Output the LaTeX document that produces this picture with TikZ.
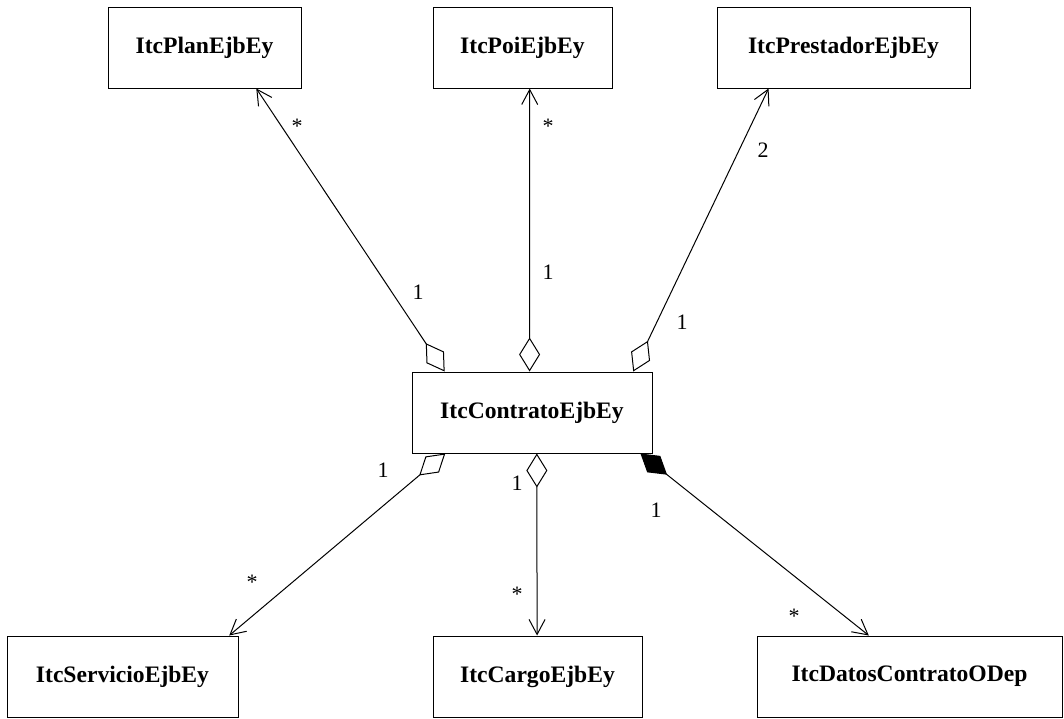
\documentclass[tikz,border=0pt]{standalone}
\usepackage{fontspec}
\setmainfont{Liberation Serif}
\usetikzlibrary{arrows.meta,calc}

\begin{document}
\begin{tikzpicture}[x=0.5pt,y=-0.5pt,
      cls/.style={draw, line width=0.5pt, inner sep=0pt, minimum height=40.5pt,
        font=\fontsize{11.8}{14}\selectfont\bfseries},
      mult/.style={inner sep=0pt, font=\fontsize{11}{13}\selectfont},
      agg/.style={line width=0.5pt,
        {Diamond[open,length=17pt,width=10.5pt]}-{Straight Barb[length=7.5pt,width=8pt]}},
      comp/.style={line width=0.5pt,
        {Diamond[length=17pt,width=10.5pt]}-{Straight Barb[length=7.5pt,width=8pt]}}
    ]
    \useasboundingbox[fill=white] (0,0) rectangle (1064,718);

    % Classes
    \node[cls, minimum width=96.5pt] (plan) at (204.5,47.5) {ItcPlanEjbEy};
    \node[cls, minimum width=89.5pt] (poi) at (522.5,47.5) {ItcPoiEjbEy};
    \node[cls, minimum width=126.5pt] (prest) at (843.5,47.5) {ItcPrestadorEjbEy};
    \node[cls, minimum width=120pt] (ctr) at (532,412.5) {ItcContratoEjbEy};
    \node[cls, minimum width=115.5pt] (serv) at (122.5,676.5) {ItcServicioEjbEy};
    \node[cls, minimum width=104.5pt] (cargo) at (537.5,676.5) {ItcCargoEjbEy};
    \node[cls, minimum width=152.5pt] (datos) at (909.5,676.5) {ItcDatosContratoODep};

    % Associations
    \draw[agg] ($(ctr.north west)!0.1375!(ctr.north east)$) -- ($(plan.south west)!0.767!(plan.south east)$);
    \draw[agg] ($(ctr.north west)!0.49!(ctr.north east)$) -- ($(poi.south west)!0.54!(poi.south east)$);
    \draw[agg] ($(ctr.north west)!0.92!(ctr.north east)$) -- ($(prest.south west)!0.205!(prest.south east)$);
    \draw[agg] ($(ctr.south west)!0.14!(ctr.south east)$) -- ($(serv.north west)!0.96!(serv.north east)$);
    \draw[agg] ($(ctr.south west)!0.52!(ctr.south east)$) -- ($(cargo.north west)!0.498!(cargo.north east)$);
    \draw[comp] ($(ctr.south west)!0.95!(ctr.south east)$) -- ($(datos.north west)!0.367!(datos.north east)$);

    % Multiplicities
    \node[mult] (mplan) at (297,126) {*};
    \node[mult] (mplanc) at (418,292) {1};
    \node[mult] (mpoi) at (548,126) {*};
    \node[mult] (mpoic) at (548,272) {1};
    \node[mult] (mprest) at (763,150) {2};
    \node[mult] (mprestc) at (682,322) {1};
    \node[mult] (mservc) at (383,470) {1};
    \node[mult] (mserv) at (252,582) {*};
    \node[mult] (mcargoc) at (517,483) {1};
    \node[mult] (mcargo) at (517,594) {*};
    \node[mult] (mdatosc) at (656,510) {1};
    \node[mult] (mdatos) at (794,616) {*};

    \end{tikzpicture}
\end{document}
